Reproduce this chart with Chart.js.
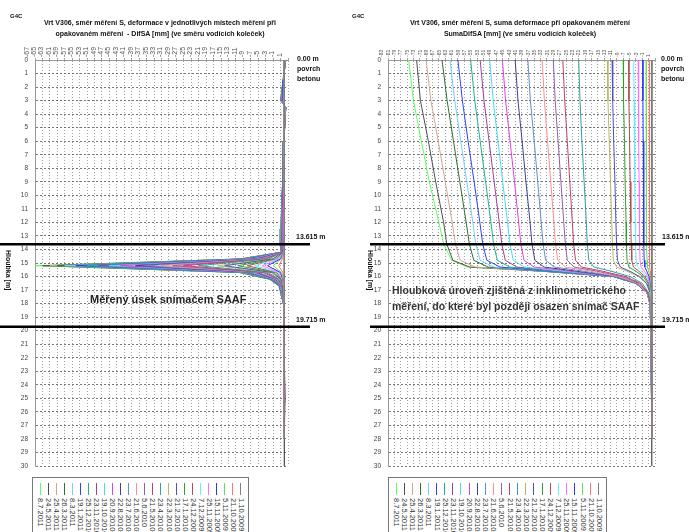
<!DOCTYPE html>
<html>
<head>
<meta charset="utf-8">
<script src="https://cdn.jsdelivr.net/npm/chart.js@4.4.1/dist/chart.umd.min.js"></script>
<style>
  body { margin: 0; background: #fff; font-family: "Liberation Sans", Arial, sans-serif; }
  #wrap { position: relative; width: 689px; height: 532px; overflow: hidden; }
  canvas { position: absolute; top: 0; }
  .t { position: absolute; font-weight: bold; color: #111; white-space: nowrap; z-index: 2; }
  .g4c { font-size: 6px; top: 13px; }
  .title { top: 17px; font-size: 7px; line-height: 11px; text-align: center; }
  .side { font-size: 7px; line-height: 10px; top: 54px; }
  .ylab { font-size: 7px; writing-mode: vertical-rl; top: 250px; }
  .note { color: #222; text-shadow: 0 0 2px #fff, 0 0 2px #fff; }
  .legend { position: absolute; top: 477px; height: 70px; border: 1px solid #777; box-sizing: border-box;
            display: flex; padding: 5px 3px 0 3px; background: #fff; }
  .li { flex: 1; display: flex; flex-direction: column; align-items: center; }
  .sw { width: 1px; height: 12px; }
  .lt { writing-mode: vertical-rl; font-size: 7.5px; line-height: 8px; margin-top: 3px; color: #333; }
</style>
</head>
<body>
<div id="wrap">
  <canvas id="difChart" width="345" height="478" style="left:0"></canvas>
  <canvas id="sumaChart" width="344" height="478" style="left:345px"></canvas>

  <div class="t g4c" style="left:10px">G4C</div>
  <div class="t g4c" style="left:352px">G4C</div>
  <div class="t title" style="left:20px;width:280px">Vrt V306, směr měření S, deformace v jednotlivých místech měření při<br>opakovaném měření &nbsp;- DifSA [mm] (ve směru vodících koleček)</div>
  <div class="t title" style="left:370px;width:300px">Vrt V306, směr měření S, suma deformace při opakovaném měření<br>SumaDifSA [mm] (ve směru vodících koleček)</div>
  <div class="t side" style="left:297px">0.00 m<br>povrch<br>betonu</div>
  <div class="t side" style="left:661px">0.00 m<br>povrch<br>betonu</div>
  <div class="t ylab" style="left:5px">Hloubka [m]</div>
  <div class="t ylab" style="left:367px">Hloubka [m]</div>
  <div class="t note" style="left:90px;top:293px;font-size:11px">Měřený úsek snímačem SAAF</div>
  <div class="t note" style="left:392px;top:282px;font-size:10.5px;line-height:16px;color:#333">Hloubková úroveň zjištěná z inklinometrického<br>měření, do které byl později osazen snímač SAAF</div>

  <div class="legend" id="difLegend" style="left:32px;width:217px"></div>
  <div class="legend" id="sumaLegend" style="left:388px;width:219px"></div>
</div>

<script>
// measurement dates, oldest first
const dates = ["1.10.2009", "21.10.2009", "5.11.2009", "15.11.2009", "25.11.2009", "7.12.2009",
  "24.12.2009", "17.1.2010", "21.2.2010", "22.3.2010", "23.4.2010", "21.5.2010", "5.6.2010",
  "21.6.2010", "23.7.2010", "22.8.2010", "20.9.2010", "19.10.2010", "23.11.2010", "25.12.2010",
  "19.1.2011", "8.3.2011", "26.3.2011", "25.4.2011", "24.5.2011", "8.7.2011"];

const colors = ["#808080", "#ff7070", "#60e060", "#3030ff", "#ff70ff", "#60f0ff",
  "#b05050", "#30a030", "#5050c0", "#b8b860", "#30a0a0", "#c04070", "#9060b0",
  "#ff9090", "#6090c0", "#404090", "#e040e0", "#40e0f0", "#a040a0", "#20b090",
  "#3040ff", "#70d0ff", "#307030", "#d0a890", "#505050", "#60ff60"];

// tick labels
const difTicks = [-67, -65, -63, -61, -59, -57, -55, -53, -51, -49, -47, -45, -43, -41, -39, -37,
  -35, -33, -31, -29, -27, -25, -23, -21, -19, -17, -15, -13, -11, -9, -7, -5, -3, -1, 1];
const sumaTicks = [-83, -81, -79, -77, -75, -73, -71, -69, -67, -65, -63, -61, -59, -57, -55, -53,
  -51, -49, -47, -45, -43, -41, -39, -37, -35, -33, -31, -29, -27, -25, -23, -21, -19, -17, -15,
  -13, -11, -9, -7, -5, -3, -1, 1];
const depthTicks = [0, 1, 2, 3, 4, 5, 6, 7, 8, 9, 10, 11, 12, 13, 14, 15, 16, 17, 18, 19, 20,
  21, 22, 23, 24, 25, 26, 27, 28, 29, 30];

// marked depths [m]
const depthMarks = [13.615, 19.715];
const markLabels = ["13.615 m", "19.715 m"];

// DifSA [mm] at these depths, one row per date
const difDepths = [0, 1.5, 3, 3.5, 6, 9.5, 12.5, 13.5, 14.2, 14.7, 15.2, 15.7, 16.2, 16.7, 18.3, 22, 25, 26.5, 28];
const difValues = [
  [0, 0, 0, 0, 0, 0, 0, 0, 0, 0, 0, 0, 0, 0, 0, 0, 0, 0, 0],
  [0, 0, -0.1, 0.1, 0, -0.1, -0.2, -0.1, -0.1, -0.5, -1.5, -0.4, -0.2, 0, 0, 0, 0, 0, 0],
  [0.1, 0, -0.2, 0.1, 0, -0.1, -0.2, -0.2, -0.2, -0.8, -3, -0.7, -0.3, -0.1, 0, 0, 0.1, 0, 0],
  [0, -0.1, -0.3, 0.1, 0, -0.1, -0.3, -0.3, -0.2, -1.0, -4.5, -1.0, -0.4, -0.1, 0, 0, 0, 0.1, 0],
  [0.1, 0, -0.3, 0.1, 0, -0.2, -0.3, -0.3, -0.3, -1.3, -6, -1.3, -0.5, -0.2, 0, 0, 0, -0.1, 0],
  [0.1, -0.1, -0.4, 0.2, -0.1, -0.1, -0.4, -0.4, -0.3, -1.6, -8, -1.6, -0.6, -0.2, 0, 0, 0.1, 0, 0],
  [0.1, -0.1, -0.4, 0.2, 0, -0.2, -0.4, -0.5, -0.3, -2.0, -10, -2.0, -0.7, -0.3, 0, 0, 0, -0.1, 0],
  [0.2, -0.1, -0.5, 0.2, -0.1, -0.2, -0.5, -0.5, -0.3, -2.4, -12.5, -2.5, -0.8, -0.3, 0, 0, 0.1, 0, 0],
  [0.1, -0.1, -0.5, 0.2, 0, -0.3, -0.5, -0.6, -0.4, -3.0, -16, -3.1, -1.0, -0.4, 0, 0, 0, 0.1, 0],
  [0.2, -0.2, -0.5, 0.3, -0.1, -0.2, -0.5, -0.6, -0.4, -3.3, -18, -3.5, -1.1, -0.4, 0, 0, 0.1, 0, 0],
  [0.2, -0.1, -0.6, 0.3, -0.1, -0.3, -0.6, -0.7, -0.4, -4.2, -23, -4.3, -1.4, -0.5, 0, 0, 0, -0.1, 0],
  [0.2, -0.2, -0.6, 0.3, -0.1, -0.3, -0.6, -0.7, -0.4, -5.0, -27, -5.0, -1.6, -0.6, 0, 0, 0.1, 0, 0],
  [0.1, -0.1, -0.6, 0.3, -0.1, -0.3, -0.6, -0.8, -0.5, -5.5, -30, -5.6, -1.8, -0.6, 0, 0, 0.1, 0.1, 0],
  [0.2, -0.2, -0.7, 0.3, -0.1, -0.3, -0.7, -0.8, -0.5, -6.0, -33, -6.1, -2.0, -0.7, 0, 0, 0, 0, 0],
  [0.2, -0.2, -0.7, 0.3, -0.1, -0.4, -0.7, -0.8, -0.5, -6.7, -37, -6.8, -2.2, -0.8, 0, 0, 0.1, -0.1, 0],
  [0.3, -0.2, -0.7, 0.3, -0.1, -0.3, -0.7, -0.9, -0.5, -7.2, -40, -7.4, -2.4, -0.8, 0, 0, 0.1, 0, 0],
  [0.2, -0.2, -0.7, 0.4, -0.1, -0.4, -0.7, -0.9, -0.6, -8.0, -44, -8.1, -2.6, -0.9, 0, 0, 0, 0.1, 0],
  [0.3, -0.3, -0.8, 0.3, -0.1, -0.4, -0.8, -0.9, -0.6, -8.5, -47, -8.7, -2.8, -1.0, 0, 0, 0.1, 0, 0],
  [0.2, -0.2, -0.8, 0.4, -0.2, -0.4, -0.8, -1.0, -0.6, -9.0, -50, -9.2, -3.0, -1.0, 0, 0, 0.2, -0.1, 0],
  [0.3, -0.2, -0.8, 0.4, -0.1, -0.4, -0.8, -1.0, -0.6, -9.6, -53, -9.8, -3.2, -1.1, 0, 0, 0.1, 0, 0],
  [0.3, -0.3, -0.9, 0.4, -0.2, -0.5, -0.8, -1.0, -0.7, -10.1, -56, -10.3, -3.4, -1.2, 0, 0, 0, 0.1, 0],
  [0.3, -0.3, -0.9, 0.4, -0.2, -0.4, -0.9, -1.1, -0.7, -10.6, -59, -10.9, -3.5, -1.2, 0, 0, 0.1, 0, 0],
  [0.4, -0.3, -0.9, 0.4, -0.1, -0.5, -0.9, -1.1, -0.7, -11.0, -61, -11.3, -3.7, -1.3, 0, 0, 0.1, 0.1, 0],
  [0.3, -0.3, -1.0, 0.4, -0.2, -0.5, -0.9, -1.1, -0.7, -11.4, -63, -11.6, -3.8, -1.3, 0, 0, 0, 0, 0],
  [0.4, -0.3, -1.0, 0.4, -0.2, -0.5, -0.9, -1.2, -0.8, -11.7, -65, -12.0, -3.9, -1.4, 0, 0, 0.2, 0.1, 0],
  [0.4, -0.4, -1.0, 0.4, -0.2, -0.5, -1.0, -1.2, -0.8, -12.0, -67, -12.4, -4.0, -1.4, 0, 0, 0.1, 0, 0]
];

// SumaDifSA [mm] at these depths, one row per date
const sumaDepths = [0, 3, 6, 9, 12, 13.6, 14.8, 15.3, 15.6, 16, 16.5, 17.2, 18, 22, 26, 28];
const sumaValues = [
  [0, 0, 0, 0, 0, 0, 0, 0, 0, 0, 0, 0, 0, 0, 0, 0],
  [-0.8, -0.8, -0.8, -0.7, -0.7, -0.7, -0.7, -0.6, -0.5, -0.3, -0.1, 0, 0, 0, 0, 0],
  [-1.8, -1.8, -1.7, -1.7, -1.6, -1.6, -1.5, -1.4, -1.0, -0.5, -0.2, -0.1, 0, 0, 0, 0],
  [-2.8, -2.8, -2.7, -2.6, -2.5, -2.5, -2.4, -2.2, -1.6, -0.9, -0.4, -0.1, 0, 0, 0, 0],
  [-4.3, -4.2, -4.1, -4.0, -3.9, -3.8, -3.7, -3.4, -2.4, -1.3, -0.6, -0.2, -0.1, 0, 0, 0],
  [-5.7, -5.6, -5.5, -5.3, -5.2, -5.1, -4.9, -4.5, -3.2, -1.7, -0.7, -0.3, -0.1, 0, 0, 0],
  [-7.3, -7.2, -7.0, -6.8, -6.6, -6.5, -6.3, -5.8, -4.1, -2.2, -0.9, -0.3, -0.1, 0, 0, 0],
  [-9.0, -8.9, -8.6, -8.4, -8.1, -8.0, -7.8, -7.2, -5.1, -2.7, -1.2, -0.4, -0.1, 0, 0, 0],
  [-12.5, -12.3, -12.0, -11.6, -11.3, -11.1, -10.8, -9.9, -7.0, -3.8, -1.6, -0.5, -0.2, 0, 0, 0],
  [-14, -13.8, -13.4, -13.0, -12.6, -12.4, -12.1, -11.1, -7.9, -4.2, -1.8, -0.6, -0.2, -0.1, 0, 0],
  [-23, -22.6, -22.0, -21.3, -20.6, -20.3, -19.8, -18.2, -12.9, -6.9, -3.0, -1.0, -0.3, -0.1, 0, 0],
  [-28, -27.4, -26.6, -25.8, -25.0, -24.6, -24.0, -22.1, -15.6, -8.4, -3.6, -1.2, -0.4, -0.1, 0, 0],
  [-31, -30.4, -29.5, -28.6, -27.7, -27.2, -26.6, -24.5, -17.3, -9.3, -4.0, -1.3, -0.4, -0.1, 0, 0],
  [-34.5, -33.8, -32.8, -31.8, -30.8, -30.3, -29.6, -27.2, -19.2, -10.4, -4.4, -1.5, -0.5, -0.1, 0, 0],
  [-39, -38.2, -37.0, -35.9, -34.8, -34.2, -33.4, -30.7, -21.7, -11.0, -4.6, -1.5, -0.5, -0.1, 0, 0],
  [-43, -42.1, -40.8, -39.6, -38.3, -37.7, -36.8, -33.9, -23.9, -11.2, -4.7, -1.5, -0.5, -0.1, 0, 0],
  [-47, -46.0, -44.6, -43.2, -41.9, -41.2, -40.2, -37.0, -26.1, -11.4, -4.8, -1.5, -0.5, -0.2, 0, 0],
  [-51, -49.9, -48.4, -46.9, -45.4, -44.6, -43.6, -40.1, -28.3, -11.6, -4.8, -1.5, -0.5, -0.2, 0, 0],
  [-54, -52.8, -51.2, -49.6, -48.0, -47.2, -46.1, -42.4, -30.0, -11.7, -4.9, -1.5, -0.5, -0.2, 0, 0],
  [-57, -55.7, -54.0, -52.3, -50.6, -49.8, -48.6, -44.7, -31.6, -11.8, -4.9, -1.5, -0.5, -0.2, 0, 0],
  [-61, -59.6, -57.8, -55.9, -54.1, -53.2, -51.9, -47.7, -33.0, -11.9, -5.0, -1.5, -0.5, -0.2, 0, 0],
  [-63.5, -62.0, -60.1, -58.2, -56.3, -55.4, -54.0, -49.7, -34.0, -12.0, -5.0, -1.5, -0.5, -0.2, 0, 0],
  [-66, -64.4, -62.4, -60.4, -58.4, -57.4, -56.0, -51.5, -34.5, -12.0, -5.0, -1.5, -0.5, -0.2, 0, 0],
  [-71, -69.5, -67.2, -65.0, -62.8, -61.8, -60.3, -55.5, -35.0, -12.0, -5.0, -1.5, -0.5, -0.2, 0, 0],
  [-74, -72.8, -70.3, -68.0, -65.5, -64.5, -62.6, -57.3, -35.0, -12.1, -5.0, -1.5, -0.5, -0.2, 0, 0],
  [-76.5, -75.0, -72.5, -70.0, -67.0, -65.5, -63.0, -58.0, -35.0, -12.2, -5.1, -1.5, -0.5, -0.3, 0, 0]
];

const FONT = '"Liberation Sans", Arial, sans-serif';

// zero line under the curves, thick depth lines and their labels on top
const marksPlugin = {
  id: "marks",
  beforeDatasetsDraw(chart) {
    const { ctx, chartArea, scales: { x } } = chart;
    const x0 = x.getPixelForValue(0);
    ctx.save();
    ctx.strokeStyle = "#222";
    ctx.lineWidth = 1;
    ctx.beginPath();
    ctx.moveTo(x0, chartArea.top);
    ctx.lineTo(x0, chartArea.bottom);
    ctx.stroke();
    ctx.restore();
  },
  afterDatasetsDraw(chart, args, opts) {
    const { ctx, scales: { y } } = chart;
    ctx.save();
    depthMarks.forEach((d, i) => {
      const py = y.getPixelForValue(d);
      ctx.strokeStyle = "#000";
      ctx.lineWidth = 2.5;
      ctx.beginPath();
      ctx.moveTo(opts.from, py);
      ctx.lineTo(opts.to, py);
      ctx.stroke();
      ctx.font = "bold 7px " + FONT;
      ctx.fillStyle = "#111";
      ctx.fillText(markLabels[i], opts.labelX, py - 5);
    });
    ctx.restore();
  }
};

function makeDatasets(depths, values) {
  return dates.map((d, i) => ({
    label: d,
    data: depths.map((dep, j) => ({ x: values[i][j], y: dep })),
    borderColor: colors[i],
    borderWidth: 1,
    pointRadius: 0,
    showLine: true,
    tension: 0
  }));
}

function makeChart(id, cfg) {
  return new Chart(document.getElementById(id), {
    type: "scatter",
    data: { datasets: makeDatasets(cfg.depths, cfg.values) },
    plugins: [marksPlugin],
    options: {
      responsive: false,
      animation: false,
      devicePixelRatio: 1,
      layout: { padding: { top: 0, right: cfg.padRight, bottom: 12, left: 0 } },
      plugins: {
        legend: { display: false },
        tooltip: { enabled: false },
        marks: cfg.marks
      },
      scales: {
        x: {
          type: "linear",
          position: "top",
          min: cfg.xTicks[0],
          max: cfg.xTicks[cfg.xTicks.length - 1],
          afterBuildTicks: s => { s.ticks = cfg.xTicks.map(v => ({ value: v })); },
          afterFit: s => { s.height = 60; },
          ticks: { autoSkip: false, minRotation: 90, maxRotation: 90, padding: 1,
                   font: { family: FONT, size: cfg.xFont }, color: "#555" },
          grid: { color: "#8a8a8a", lineWidth: 0.8, tickLength: 2 },
          border: { color: "#999", dash: [1, 2] }
        },
        y: {
          type: "linear",
          reverse: true,
          min: 0,
          max: 30,
          afterBuildTicks: s => { s.ticks = cfg.yTicks.map(v => ({ value: v })); },
          afterFit: s => { s.width = cfg.yWidth; },
          ticks: { padding: 7, font: { family: FONT, size: 6.5 }, color: "#444",
                   callback: v => Number.isInteger(v) ? v : "" },
          grid: { drawTicks: false, lineWidth: 0.8,
                  color: c => Number.isInteger(c.tick && c.tick.value) ? "#555" : "#aaa" },
          border: { color: "#999", dash: [2, 2] }
        }
      }
    }
  });
}

makeChart("difChart", {
  depths: difDepths, values: difValues, xTicks: difTicks, xFont: 7,
  yTicks: depthTicks, yWidth: 35, padRight: 57,
  marks: { from: 0, to: 310, labelX: 296 }
});

// right panel gets a half-metre minor grid
const sumaDepthTicks = [];
depthTicks.forEach(v => { sumaDepthTicks.push(v); if (v < 30) sumaDepthTicks.push(v + 0.5); });

makeChart("sumaChart", {
  depths: sumaDepths, values: sumaValues, xTicks: sumaTicks, xFont: 5,
  yTicks: sumaDepthTicks, yWidth: 43, padRight: 34,
  marks: { from: 25, to: 320, labelX: 317 }
});

// legends: newest on the left
function buildLegend(el) {
  for (let i = dates.length - 1; i >= 0; i--) {
    const item = document.createElement("div");
    item.className = "li";
    const sw = document.createElement("span");
    sw.className = "sw";
    sw.style.background = colors[i];
    const tx = document.createElement("span");
    tx.className = "lt";
    tx.textContent = dates[i];
    item.append(sw, tx);
    el.append(item);
  }
}
buildLegend(document.getElementById("difLegend"));
buildLegend(document.getElementById("sumaLegend"));
</script>
</body>
</html>
